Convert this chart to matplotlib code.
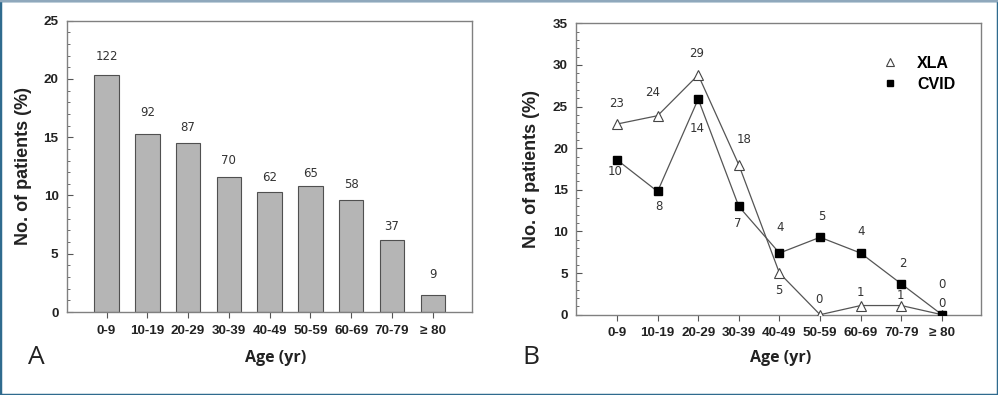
import numpy as np
import matplotlib
matplotlib.use('Agg')
import matplotlib.pyplot as plt
from matplotlib.patches import Rectangle
from matplotlib.lines import Line2D
from matplotlib.ticker import MultipleLocator

# datos
age_groups = ['0-9', '10-19', '20-29', '30-39', '40-49', '50-59', '60-69', '70-79', '\u2265 80']
total_pct = [20.3, 15.3, 14.5, 11.6, 10.3, 10.8, 9.6, 6.2, 1.5]
total_n = [122, 92, 87, 70, 62, 65, 58, 37, 9]

xla_pct = [22.9, 23.9, 28.8, 18.0, 5.0, 0.0, 1.1, 1.1, 0.0]
xla_n = [23, 24, 29, 18, 5, 0, 1, 1, 0]
cvid_pct = [18.6, 14.8, 25.9, 13.0, 7.4, 9.3, 7.4, 3.7, 0.0]
cvid_n = [10, 8, 14, 7, 4, 5, 4, 2, 0]

# desplazamientos de etiquetas (pixeles)
bar_off = [19, 21, 16, 16, 14, 13, 16, 13, 20]
xla_off = [(0, 21), (-5, 23), (-2, 21), (5, 25), (-1, -17), (-1, 15), (0, 13), (-1, 10), (0, 11)]
cvid_off = [(-2, -12), (1, -15), (-1, -29), (-1, -17), (1, 26), (2, 21), (0, 22), (2, 20), (0, 30)]

TICK_FONT = 'Liberation Sans'
NUM_FONT = 'DejaVu Sans'
SPINE = '#808080'

fig = plt.figure(figsize=(9.98, 3.95), dpi=100)
axA = fig.add_axes([0.0671, 0.2101, 0.4058, 0.7375])
axB = fig.add_axes([0.5775, 0.2033, 0.4058, 0.7377])

x = np.arange(len(age_groups))


def style_axes(ax, ymax, xlo, xhi):
    ax.set_xlim(xlo, xhi)
    ax.set_ylim(0, ymax)
    ax.set_xticks(x)
    ax.set_xticklabels(age_groups)
    ax.yaxis.set_major_locator(MultipleLocator(5))
    ax.yaxis.set_minor_locator(MultipleLocator(1))
    for s in ax.spines.values():
        s.set_color(SPINE)
        s.set_linewidth(1.0)
    ax.tick_params(axis='x', direction='out', length=4, width=0.8, color='#555555', pad=5)
    ax.tick_params(axis='y', which='major', direction='in', length=4, width=0.8, color='#555555', pad=6)
    ax.tick_params(axis='y', which='minor', direction='in', length=2, width=0.6, color='#555555')
    ax.tick_params(axis='x', which='minor', bottom=False)
    for lab in ax.get_xticklabels() + ax.get_yticklabels():
        lab.set_fontfamily(TICK_FONT)
        lab.set_fontweight('bold')
        lab.set_fontsize(9.7)
        lab.set_color('#222222')
    ax.set_ylabel('No. of patients (%)', fontfamily=TICK_FONT, fontweight='bold', fontsize=13, color='#222222')
    ax.set_xlabel('Age (yr)', fontfamily='Open Sans', fontweight='bold', fontsize=11.5, color='#222222', va='center')


# Panel A
axA.bar(x, total_pct, width=0.6, color='#b5b5b5', edgecolor='#505050', linewidth=0.8)
for i, (v, n) in enumerate(zip(total_pct, total_n)):
    axA.annotate(str(n), (x[i], v), xytext=(0, bar_off[i]), textcoords='offset pixels',
                 ha='center', va='center', fontsize=8.5, fontfamily=NUM_FONT, color='#333333')
style_axes(axA, 25, -0.97, 8.96)
axA.yaxis.set_label_coords(-0.086, 0.5)
axA.xaxis.set_label_coords(0.516, -0.158)

# Panel B
axB.plot(x, xla_pct, color='#555555', lw=0.9, marker='^', markersize=6.5,
         markerfacecolor='white', markeredgecolor='#444444', markeredgewidth=0.8, label='XLA', zorder=3)
axB.plot(x, cvid_pct, color='#555555', lw=0.9, marker='s', markersize=5.5,
         markerfacecolor='black', markeredgecolor='black', label='CVID', zorder=3)
for i in range(len(x)):
    axB.annotate(str(xla_n[i]), (x[i], xla_pct[i]), xytext=xla_off[i], textcoords='offset pixels',
                 ha='center', va='center', fontsize=8.5, fontfamily=NUM_FONT, color='#333333')
    axB.annotate(str(cvid_n[i]), (x[i], cvid_pct[i]), xytext=cvid_off[i], textcoords='offset pixels',
                 ha='center', va='center', fontsize=8.5, fontfamily=NUM_FONT, color='#333333')
style_axes(axB, 35, -1.0, 8.97)
axB.yaxis.set_label_coords(-0.09, 0.5)
axB.xaxis.set_label_coords(0.504, -0.149)

leg = axB.legend(loc='upper left', bbox_to_anchor=(0.755, 0.889), frameon=False,
                 borderpad=0, borderaxespad=0, handlelength=1.0, handletextpad=1.2,
                 labelspacing=0.37, markerscale=0.85,
                 prop={'family': TICK_FONT, 'weight': 'bold', 'size': 11.5})
for h in leg.legend_handles:
    h.set_linestyle('none')

# letras de panel
fig.text(36 / 998, 1 - 358 / 395, 'A', fontsize=19, fontfamily='Open Sans', ha='center', va='center', color='#222222')
fig.text(531 / 998, 1 - 358 / 395, 'B', fontsize=19, fontfamily='Open Sans', ha='center', va='center', color='#222222')

# marco exterior
fig.patches.append(Rectangle((0, 0), 1, 1, transform=fig.transFigure, fill=False,
                             edgecolor='#2f6b8e', linewidth=2.5))
fig.lines.append(Line2D([0, 1], [1, 1], transform=fig.transFigure, color='#8fa8bc', linewidth=2.5))

fig.savefig('out.png', dpi=100)
plt.close(fig)
